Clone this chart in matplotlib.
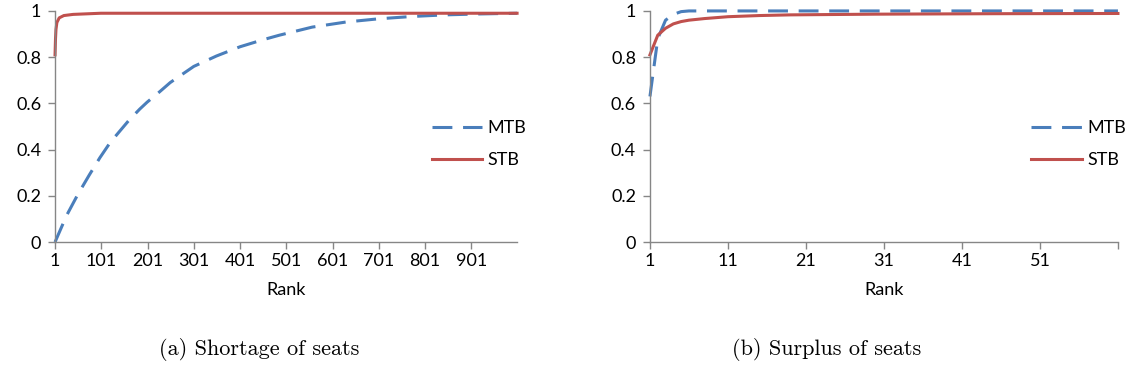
import matplotlib
matplotlib.use("Agg")
import matplotlib.pyplot as plt

# (a) shortage of seats, ranks 1..1000
short_rank_mtb = [1, 26, 50, 75, 98, 120, 141, 160, 184, 200, 227, 250, 301, 350, 401,
                  450, 486, 557, 630, 701, 773, 845, 920, 1000]
short_mtb = [0.0, 0.115, 0.205, 0.29, 0.365, 0.43, 0.48, 0.525, 0.575, 0.605, 0.65, 0.69,
             0.76, 0.805, 0.845, 0.875, 0.895, 0.93, 0.952, 0.966, 0.976, 0.983, 0.987, 0.99]
short_rank_stb = [1, 2, 3, 5, 10, 20, 40, 100, 1000]
short_stb = [0.81, 0.88, 0.92, 0.95, 0.97, 0.98, 0.985, 0.99, 0.99]

# (b) surplus of seats, ranks 1..61
surp_rank_mtb = [1, 2, 3, 4, 5, 6, 61]
surp_mtb = [0.63, 0.88, 0.96, 0.985, 0.997, 1.0, 1.0]
surp_rank_stb = [1, 2, 3, 4, 5, 6, 8, 11, 15, 19, 30, 45, 61]
surp_stb = [0.81, 0.895, 0.925, 0.944, 0.954, 0.96, 0.967, 0.975, 0.98, 0.983, 0.986, 0.988, 0.989]

short_ticks = [1, 101, 201, 301, 401, 501, 601, 701, 801, 901]
surp_ticks = [1, 11, 21, 31, 41, 51, 61]
surp_ticklabels = ["1", "11", "21", "31", "41", "51", ""]
y_ticks = [0, 0.2, 0.4, 0.6, 0.8, 1]
y_ticklabels = ["0", "0.2", "0.4", "0.6", "0.8", "1"]

blue = "#4A7EBB"
red = "#C0504D"
axis_gray = "#868686"
fs = 13

plt.rcParams['font.family'] = ['Lato', 'DejaVu Sans']

fig = plt.figure(figsize=(11.28, 3.77), dpi=100)
ax1 = fig.add_axes([0.0488, 0.358, 0.4096, 0.613])
ax2 = fig.add_axes([0.5762, 0.358, 0.4149, 0.613])


def style(ax, xlim, ticks, labels):
    for s in ["top", "right"]:
        ax.spines[s].set_visible(False)
    for s in ["left", "bottom"]:
        ax.spines[s].set_color(axis_gray)
        ax.spines[s].set_linewidth(1.0)
    ax.set_xlim(*xlim)
    ax.set_ylim(0, 1)
    ax.set_xticks(ticks)
    ax.set_xticklabels(labels)
    ax.set_yticks(y_ticks)
    ax.set_yticklabels(y_ticklabels)
    ax.tick_params(axis="both", direction="out", length=5, width=1.0,
                   color=axis_gray, labelsize=fs, labelcolor="black")
    ax.tick_params(axis="x", pad=3)
    ax.tick_params(axis="y", pad=5)
    ax.set_xlabel("Rank", fontsize=fs, labelpad=9)


for ax, rm, m, rs, s, xlim, ticks, labels in [
        (ax1, short_rank_mtb, short_mtb, short_rank_stb, short_stb, (1, 1000), short_ticks, [str(t) for t in short_ticks]),
        (ax2, surp_rank_mtb, surp_mtb, surp_rank_stb, surp_stb, (1, 61), surp_ticks, surp_ticklabels)]:
    ax.plot(rm, m, color=blue, lw=2.2, linestyle=(0, (6.5, 3.5)), label="MTB", clip_on=False)
    ax.plot(rs, s, color=red, lw=2.2, label="STB", clip_on=False)
    style(ax, xlim, ticks, labels)
    ax.legend(loc="center left", bbox_to_anchor=(0.815, 0.424), frameon=False,
              fontsize=fs, handlelength=2.8, handletextpad=0.3, labelspacing=0.9,
              borderpad=0, borderaxespad=0)

fig.text(0.2297, 0.072, "(a) Shortage of seats", family="cmr10", fontsize=16, ha="center", va="center")
fig.text(0.7332, 0.072, "(b) Surplus of seats", family="cmr10", fontsize=16, ha="center", va="center")

fig.savefig("out.png", dpi=100)
